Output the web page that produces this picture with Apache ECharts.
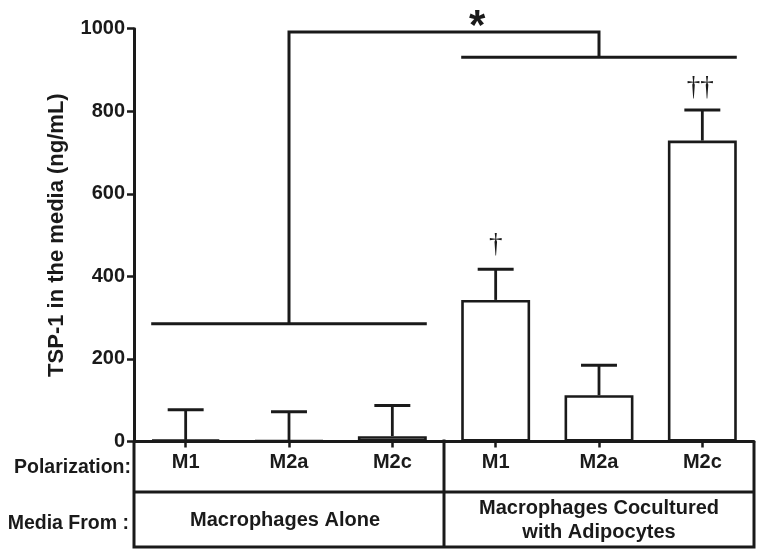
<!DOCTYPE html>
<html><head><meta charset="utf-8">
<script src="https://cdn.jsdelivr.net/npm/echarts@6/dist/echarts.min.js"></script>
<style>html,body{margin:0;padding:0;background:#fff}#c{width:764px;height:558px}</style>
</head><body><div id="c"></div>
<script>
// ---- data ----
const polarization = ['M1', 'M2a', 'M2c', 'M1', 'M2a', 'M2c'];
const mediaGroups = ['Macrophages Alone', 'Macrophages Cocultured\nwith Adipocytes'];
const groupSpans = [[0, 2], [3, 5]];
const rowTitles = ['Polarization:', 'Media From :'];
const meanValues = [4, 2, 13, 343, 112, 729];
const semValues = [73, 70, 74, 74, 73, 74];
const yTicks = [0, 200, 400, 600, 800, 1000];
const yTitle = 'TSP-1 in the media (ng/mL)';
// significance bracket annotations
const bracketSpans = [[0, 2], [3, 5]];
const bracketLevels = [285, 931];
const bracketDrops = [1, 4];
const bracketTop = 992;
const starText = '*';
const starPos = [2.82, 1002];
const daggerCats = [3, 5];
const daggerTexts = ['\u2020', '\u2020\u2020'];
const daggerValues = [476, 857];

const INK = '#1a1a1a';
const FONT = '"Liberation Sans", Arial, sans-serif';

const chart = echarts.init(document.getElementById('c'), null, {renderer: 'canvas'});

function errItem(params, api) {
  const i = api.value(0);
  const p0 = api.coord([i, api.value(1)]);
  const p1 = api.coord([i, api.value(2)]);
  const band = api.size([1, 0])[0];
  const h = band * 0.174;
  return {
    type: 'group',
    children: [
      {type: 'line', shape: {x1: p0[0], y1: p0[1], x2: p1[0], y2: p1[1]}, style: {stroke: INK, lineWidth: 2.8}},
      {type: 'line', shape: {x1: p1[0] - h, y1: p1[1], x2: p1[0] + h, y2: p1[1]}, style: {stroke: INK, lineWidth: 3}}
    ]
  };
}

function annotItem(params, api) {
  const band = api.size([1, 0])[0];
  const c = i => api.coord([i, 0]);
  const base = c(0)[1];
  const left = c(0)[0] - band / 2;
  const right = c(polarization.length - 1)[0] + band / 2;
  const barHalf = band * 0.3335;
  const kids = [];
  const ls = {stroke: INK, lineWidth: 3, fill: null};
  // brackets
  const topY = api.coord([0, bracketTop])[1];
  bracketSpans.forEach((s, k) => {
    const y = api.coord([0, bracketLevels[k]])[1];
    kids.push({type: 'line', shape: {x1: c(s[0])[0] - barHalf, y1: y, x2: c(s[1])[0] + barHalf, y2: y}, style: ls});
  });
  const d0 = c(bracketDrops[0])[0], d1 = c(bracketDrops[1])[0];
  const y0 = api.coord([0, bracketLevels[0]])[1], y1 = api.coord([0, bracketLevels[1]])[1];
  kids.push({type: 'polyline', shape: {points: [[d0, y0], [d0, topY], [d1, topY], [d1, y1]]}, style: ls});
  // star
  const si = Math.floor(starPos[0]);
  const sx = c(si)[0] + (starPos[0] - si) * band;
  kids.push({type: 'text', x: sx, y: api.coord([0, starPos[1]])[1],
    style: {text: starText, fill: INK, font: 'bold 42px ' + FONT, align: 'center', verticalAlign: 'middle'}});
  // daggers
  daggerCats.forEach((ci, k) => {
    kids.push({type: 'text', x: c(ci)[0] - (k === 1 ? 2 : 0), y: api.coord([0, daggerValues[k]])[1],
      style: {text: daggerTexts[k], fill: INK, font: '27px "Liberation Serif", serif', align: 'center', verticalAlign: 'middle'}});
  });
  // table
  const row1 = base + 50.5, bottom = base + 105.5;
  kids.push({type: 'polyline', shape: {points: [[left, base], [left, bottom], [right, bottom], [right, base]]}, style: ls});
  kids.push({type: 'line', shape: {x1: left, y1: row1, x2: right, y2: row1}, style: ls});
  const mid = c(groupSpans[0][1])[0] + band / 2;
  kids.push({type: 'line', shape: {x1: mid, y1: base - 2, x2: mid, y2: bottom}, style: ls});
  // row titles
  kids.push({type: 'text', x: left - 3, y: base + 26.5,
    style: {text: rowTitles[0], fill: INK, font: 'bold 19.5px ' + FONT, align: 'right', verticalAlign: 'middle'}});
  kids.push({type: 'text', x: left - 5, y: base + 82.5,
    style: {text: rowTitles[1], fill: INK, font: 'bold 19.5px ' + FONT, align: 'right', verticalAlign: 'middle'}});
  // group labels
  groupSpans.forEach((s, k) => {
    const gx = (c(s[0])[0] - band / 2 + c(s[1])[0] + band / 2) / 2 - (k === 0 ? 4 : 0);
    kids.push({type: 'text', x: gx, y: base + 79,
      style: {text: mediaGroups[k], fill: INK, font: 'bold 20px ' + FONT, align: 'center', verticalAlign: 'middle', lineHeight: 24}});
  });
  return {type: 'group', children: kids};
}

chart.setOption({
  animation: false,
  backgroundColor: '#fff',
  grid: {left: 134, right: 10, top: 28.7, bottom: 116.5},
  xAxis: {
    type: 'category',
    data: polarization,
    axisLine: {show: true, lineStyle: {color: INK, width: 3}},
    axisTick: {show: true, alignWithLabel: true, length: 6, lineStyle: {color: INK, width: 2.5}},
    axisLabel: {interval: 0, margin: 11, color: INK, fontSize: 20, fontWeight: 'bold', fontFamily: FONT, lineHeight: 20},
    splitLine: {show: false}
  },
  yAxis: {
    type: 'value',
    min: yTicks[0], max: yTicks[yTicks.length - 1], interval: yTicks[1] - yTicks[0],
    name: yTitle, nameLocation: 'middle', nameGap: 66, nameRotate: 90,
    nameTextStyle: {color: INK, fontSize: 22, fontWeight: 'bold', fontFamily: FONT},
    axisLine: {show: true, lineStyle: {color: INK, width: 3}},
    axisTick: {show: true, length: 7, lineStyle: {color: INK, width: 2.5}},
    axisLabel: {margin: 9, color: INK, fontSize: 20, fontWeight: 'bold', fontFamily: FONT, formatter: v => String(v)},
    splitLine: {show: false}
  },
  series: [
    {
      type: 'bar', data: meanValues, barWidth: '66.7%', z: 2, silent: true,
      itemStyle: {color: '#fff', borderColor: INK, borderWidth: 2.6}
    },
    {
      type: 'custom', z: 3, silent: true, clip: false,
      data: meanValues.map((m, i) => [i, m, m + semValues[i]]),
      encode: {x: 0, y: [1, 2]},
      renderItem: errItem
    },
    {
      type: 'custom', z: 4, silent: true, clip: false,
      data: [[0, 0]],
      encode: {x: 0, y: 1},
      renderItem: annotItem
    }
  ]
});
</script>
</body></html>
